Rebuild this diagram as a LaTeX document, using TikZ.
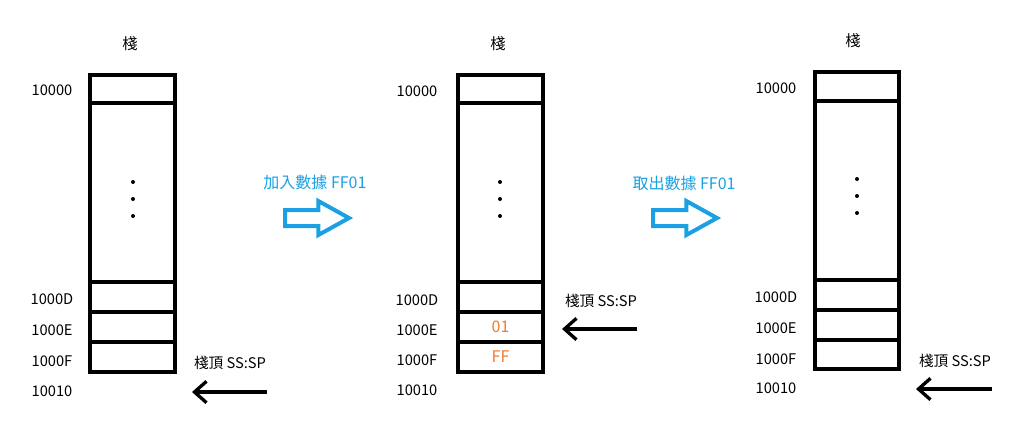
\documentclass[tikz,border=0pt]{standalone}
\usepackage{fontspec}
\setmainfont{Noto Sans CJK TC}
\usetikzlibrary{arrows.meta,shapes.arrows}
\definecolor{opblue}{RGB}{27,161,226}
\definecolor{dataorange}{RGB}{237,125,49}
\newdimen\pix
\pix=0.75pt

\begin{document}
\begin{tikzpicture}[x=\pix,y=-\pix,
    cell/.style={draw,line width=4\pix,minimum width=85\pix,inner sep=0pt,outer sep=0pt,anchor=north},
    addr/.style={font=\fontsize{11}{13}\selectfont},
    title/.style={font=\fontsize{11.5}{13}\selectfont},
    oplabel/.style={opblue,font=\fontsize{12}{14}\selectfont},
    bigarrow/.style={single arrow,draw=opblue,line width=4\pix,inner sep=6\pix,anchor=west,
        minimum height=64\pix,single arrow head extend=9\pix,single arrow tip angle=58},
    pointer/.style={-{Straight Barb[length=9pt,width=16pt]},line width=3.3\pix},
    data/.style={text=dataorange,font=\fontsize{12}{14}\selectfont}]
    \useasboundingbox (0,0) rectangle (1024,430);

    % Stack 1: empty
    \node[title] (t1) at (130,44) {棧};
    \node[cell,minimum height=28\pix] (a1) at (132.5,75) {};
    \node[cell,minimum height=179\pix] (b1) at (a1.south) {};
    \node[cell,minimum height=30\pix] (d1) at (b1.south) {};
    \node[cell,minimum height=30\pix] (e1) at (d1.south) {};
    \node[cell,minimum height=30\pix] (f1) at (e1.south) {};
    \foreach \y in {182,199,216}
        \fill (133,\y) circle (2\pix);
    \node[addr] (l1a) at (52,90) {10000};
    \node[addr] (l1d) at (52,299) {1000D};
    \node[addr] (l1e) at (52,330) {1000E};
    \node[addr] (l1f) at (52,361) {1000F};
    \node[addr] (l1g) at (52,391) {10010};
    \node[addr] (sp1) at (230,363) {棧頂 SS:SP};
    \coordinate (sp1tail) at (267,392);
    \coordinate (sp1tip) at (192,392);
    \draw[pointer] (sp1tail) -- (sp1tip);

    % Push
    \node[oplabel] (push) at (315,182) {加入數據 FF01};
    \node[bigarrow] (pusharrow) at (283,218) {};

    % Stack 2: after push
    \node[title] (t2) at (498,44) {棧};
    \node[cell,minimum height=28\pix] (a2) at (500.5,75) {};
    \node[cell,minimum height=179\pix] (b2) at (a2.south) {};
    \node[cell,minimum height=30\pix] (d2) at (b2.south) {};
    \node[cell,minimum height=30\pix,data] (e2) at (d2.south) {01};
    \node[cell,minimum height=30\pix,data] (f2) at (e2.south) {FF};
    \foreach \y in {182,199,216}
        \fill (500,\y) circle (2\pix);
    \node[addr] (l2a) at (417,91) {10000};
    \node[addr] (l2d) at (417,300) {1000D};
    \node[addr] (l2e) at (417,330) {1000E};
    \node[addr] (l2f) at (417,360) {1000F};
    \node[addr] (l2g) at (417,390) {10010};
    \node[addr] (sp2) at (601,301) {棧頂 SS:SP};
    \coordinate (sp2tail) at (637,329);
    \coordinate (sp2tip) at (562,329);
    \draw[pointer] (sp2tail) -- (sp2tip);

    % Pop
    \node[oplabel] (pop) at (684,183) {取出數據 FF01};
    \node[bigarrow] (poparrow) at (651,218) {};

    % Stack 3: after pop
    \node[title] (t3) at (853,41) {棧};
    \node[cell,minimum height=29\pix,minimum width=84\pix] (a3) at (857,72) {};
    \node[cell,minimum height=179\pix,minimum width=84\pix] (b3) at (a3.south) {};
    \node[cell,minimum height=30\pix,minimum width=84\pix] (d3) at (b3.south) {};
    \node[cell,minimum height=30\pix,minimum width=84\pix] (e3) at (d3.south) {};
    \node[cell,minimum height=29\pix,minimum width=84\pix] (f3) at (e3.south) {};
    \foreach \y in {179,196,213}
        \fill (857,\y) circle (2\pix);
    \node[addr] (l3a) at (776,88) {10000};
    \node[addr] (l3d) at (776,297) {1000D};
    \node[addr] (l3e) at (776,328) {1000E};
    \node[addr] (l3f) at (776,359) {1000F};
    \node[addr] (l3g) at (776,388) {10010};
    \node[addr] (sp3) at (955,361) {棧頂 SS:SP};
    \coordinate (sp3tail) at (992,389);
    \coordinate (sp3tip) at (916,389);
    \draw[pointer] (sp3tail) -- (sp3tip);
\end{tikzpicture}
\end{document}
